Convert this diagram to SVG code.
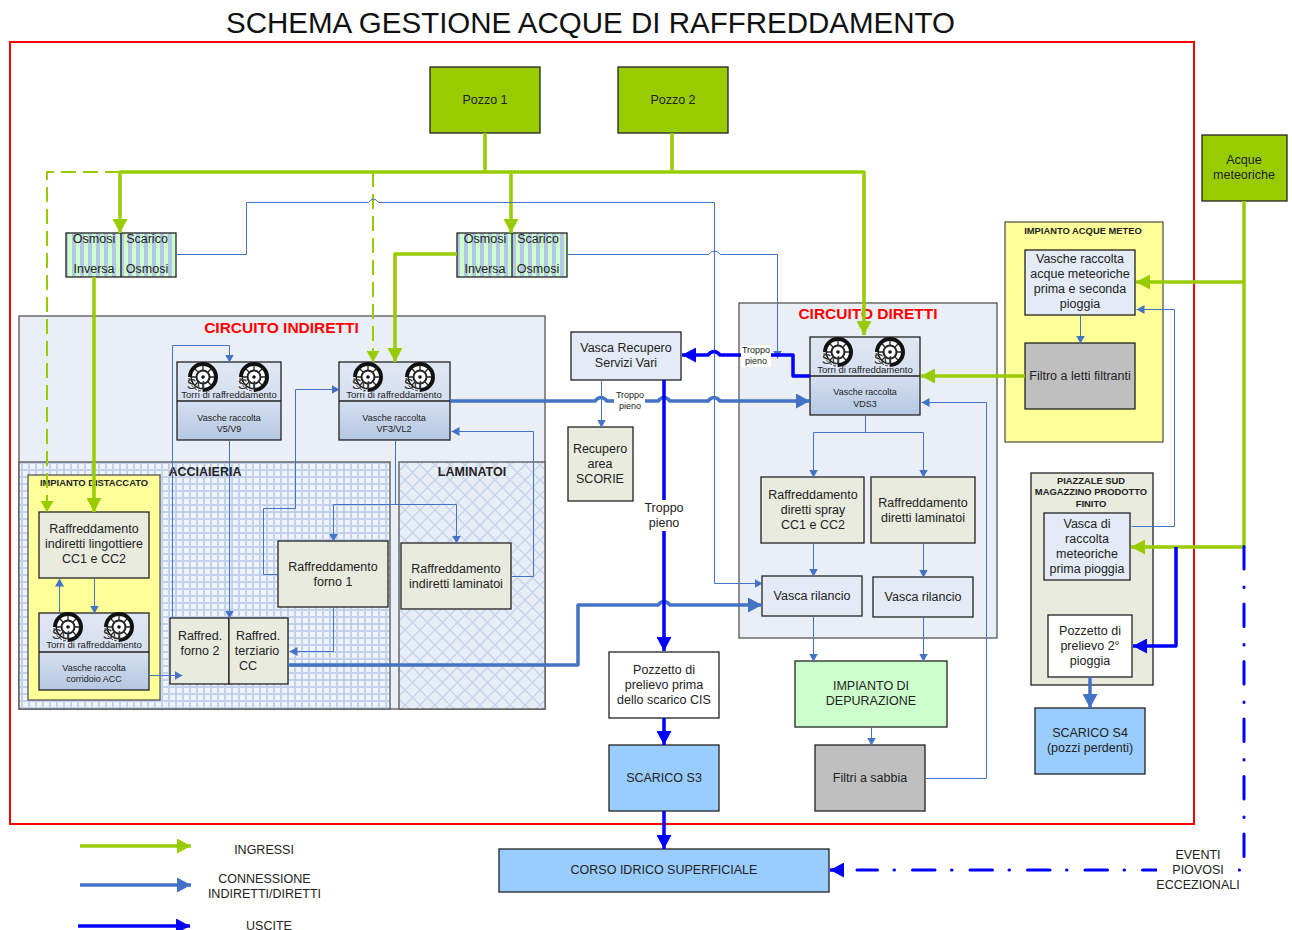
<svg xmlns="http://www.w3.org/2000/svg" width="1292" height="930" viewBox="0 0 1292 930">
<style>
text{font-family:"Liberation Sans",Arial,sans-serif;fill:#222;text-anchor:middle;font-size:12.5px}
.b{stroke:#222;stroke-width:1.3}
.panel{fill:#eaeff7;stroke:#555;stroke-width:1.3}
.beige{fill:#e9ebdf}
.pale{fill:#e4ebf6}
.yel{fill:#ffff99;stroke:#555;stroke-width:1.3}
.sky{fill:#99ccff}
.lime{fill:#99cc00}
.grey{fill:#bfbfbf}
.h{font-weight:bold}
.hs{font-weight:bold;font-size:9.4px}
.s{font-size:9.5px}
.xs{font-size:9px}
.red{fill:#ff0000;font-weight:bold;font-size:15.5px}
path{fill:none;stroke-linejoin:round}
.g{stroke:#99cc00;stroke-width:3.5}
.gd{stroke:#99cc00;stroke-width:2;stroke-dasharray:15 7}
.m{stroke:#4472c4;stroke-width:3.5}
.t{stroke:#4472c4;stroke-width:1;transform:translate(.5px,.5px)}
.u{stroke:#0000ff;stroke-width:3.5}
.dd{stroke:#0000ff;stroke-width:3;stroke-dasharray:22.5 18 .5 16.5;stroke-linecap:round}
</style>
<defs>
<linearGradient id="vg" x1="0" y1="0" x2="0" y2="1"><stop offset="0" stop-color="#d5e0f0"/><stop offset="1" stop-color="#b5c7e2"/></linearGradient>
<linearGradient id="tg" x1="0" y1="0" x2="0" y2="1"><stop offset="0" stop-color="#e0e7f4"/><stop offset="1" stop-color="#d5dfef"/></linearGradient>
<pattern id="grid" width="7" height="7" patternUnits="userSpaceOnUse"><rect width="7" height="7" fill="#eef2f9"/><path d="M0 1H7M1 0V7" stroke="#c3d2ea" stroke-width="2"/></pattern>
<pattern id="diag" width="15" height="15" patternUnits="userSpaceOnUse"><rect width="15" height="15" fill="#e8eef8"/><path d="M0 0L15 15M15 0L0 15" stroke="#c6d4ec" stroke-width="1.5"/></pattern>
<pattern id="stripe" width="8" height="8" patternUnits="userSpaceOnUse"><rect width="8" height="8" fill="#ccffcc"/><rect width="4" height="8" fill="#b4c7e7"/></pattern>
<marker id="ag" markerUnits="userSpaceOnUse" markerWidth="15" markerHeight="15" refX="14" refY="7.5" orient="auto"><path d="M0 0L14 7.5L0 15Z" style="fill:#99cc00"/></marker>
<marker id="agm" markerUnits="userSpaceOnUse" markerWidth="12" markerHeight="13" refX="11" refY="6.5" orient="auto"><path d="M0 0L11 6.5L0 13Z" style="fill:#99cc00"/></marker>
<marker id="am" markerUnits="userSpaceOnUse" markerWidth="15" markerHeight="15" refX="14" refY="7.5" orient="auto"><path d="M0 0L14 7.5L0 15Z" style="fill:#4472c4"/></marker>
<marker id="at" markerUnits="userSpaceOnUse" markerWidth="9" markerHeight="9" refX="8" refY="4.5" orient="auto"><path d="M0 0L8 4.5L0 9Z" style="fill:#4472c4"/></marker>
<marker id="au" markerUnits="userSpaceOnUse" markerWidth="15" markerHeight="15" refX="14" refY="7.5" orient="auto"><path d="M0 0L14 7.5L0 15Z" style="fill:#0000ff"/></marker>
<g id="fan">
<circle r="13" fill="#fff" stroke="#111" stroke-width="4"/>
<path d="M-14.8 0A14.8 14.8 0 0 0 0 14.8" stroke="#e4ebf6" stroke-width="4.5"/>
<path d="M-14 1A14 14 0 0 0 0 14" stroke="#222" stroke-width="1" stroke-dasharray="2.5 1.5"/>
<circle r="6.5" fill="#fff" stroke="#222" stroke-width="2"/>
<circle r="1.8" fill="#111"/>
<path d="M0 -12V-7M0 7V12M-12 0H-7M7 0H12M-8.5 -8.5L-5 -5M8.5 -8.5L5 -5M-8.5 8.5L-5 5M8.5 8.5L5 5" stroke="#222" stroke-width="1.3"/>
<text x="-7" y="12" style="font-size:15px;fill:#333">Su</text>
</g>
</defs>

<text x="590.5" y="33" style="font-size:29.5px;fill:#111">SCHEMA GESTIONE ACQUE DI RAFFREDDAMENTO</text>
<rect id="frame" x="10" y="42" width="1184" height="782" fill="none" stroke="#ff0000" stroke-width="2"/>

<g id="circuito-indiretti"><rect class="panel" x="19" y="316" width="526" height="393"/><text class="red" x="281.5" y="333">CIRCUITO INDIRETTI</text></g>
<g id="acciaieria"><rect x="19" y="462" width="371" height="247" fill="url(#grid)" stroke="#555" stroke-width="1.3"/><text class="h" x="205" y="476">ACCIAIERIA</text></g>
<g id="laminatoi"><rect x="399" y="462" width="146" height="247" fill="url(#diag)" stroke="#555" stroke-width="1.3"/><text class="h" x="472" y="476">LAMINATOI</text></g>
<g id="circuito-diretti"><rect class="panel" x="739" y="303" width="258" height="335"/><text class="red" x="868" y="319">CIRCUITO DIRETTI</text></g>
<g id="impianto-distaccato"><rect class="yel" x="28" y="475" width="132" height="225"/><text class="hs" x="94" y="486">IMPIANTO DISTACCATO</text></g>
<g id="impianto-meteo"><rect class="yel" x="1005" y="222" width="158" height="220"/><text class="hs" x="1083" y="234">IMPIANTO ACQUE METEO</text></g>
<g id="piazzale-sud"><rect class="beige" x="1031" y="473" width="122" height="212" stroke="#222" stroke-width="1.3"/><text class="hs" x="1091" y="484">PIAZZALE SUD</text><text class="hs" x="1091" y="495">MAGAZZINO PRODOTTO</text><text class="hs" x="1091" y="507">FINITO</text></g>

<g id="pozzo1"><rect class="lime b" x="430" y="67" width="110" height="66"/><text x="485" y="104">Pozzo 1</text></g>
<g id="pozzo2"><rect class="lime b" x="618" y="67" width="110" height="66"/><text x="673" y="104">Pozzo 2</text></g>
<g id="acque-meteoriche"><rect class="lime b" x="1202" y="135" width="85" height="66"/><text x="1244" y="164">Acque</text><text x="1244" y="179">meteoriche</text></g>

<g id="osmosi1"><rect class="b" x="66" y="233" width="110" height="44" fill="url(#stripe)"/><path class="b" d="M121 233V277"/><text x="94" y="243">Osmosi</text><text x="94" y="273">Inversa</text><text x="147" y="243">Scarico</text><text x="147" y="273">Osmosi</text></g>
<g id="osmosi2"><rect class="b" x="457" y="233" width="110" height="44" fill="url(#stripe)"/><path class="b" d="M512 233V277"/><text x="485" y="243">Osmosi</text><text x="485" y="273">Inversa</text><text x="538" y="243">Scarico</text><text x="538" y="273">Osmosi</text></g>

<g id="torri-v5"><rect x="177" y="362" width="104" height="39" fill="url(#tg)"/><rect x="177" y="401" width="104" height="39" fill="url(#vg)"/><rect class="b" x="177" y="362" width="104" height="78" fill="none"/><path class="b" d="M177 401H281"/><use href="#fan" x="203" y="377"/><use href="#fan" x="254" y="377"/><text class="s" x="229" y="398">Torri di raffreddamento</text><text class="xs" x="229" y="421">Vasche raccolta</text><text class="xs" x="229" y="432">V5/V9</text></g>
<g id="torri-vf3"><rect x="339" y="362" width="111" height="39" fill="url(#tg)"/><rect x="339" y="401" width="111" height="39" fill="url(#vg)"/><rect class="b" x="339" y="362" width="111" height="78" fill="none"/><path class="b" d="M339 401H450"/><use href="#fan" x="368" y="377"/><use href="#fan" x="420" y="377"/><text class="s" x="394" y="398">Torri di raffreddamento</text><text class="xs" x="394" y="421">Vasche raccolta</text><text class="xs" x="394" y="432">VF3/VL2</text></g>
<g id="torri-vds3"><rect x="810" y="337" width="110" height="39" fill="url(#tg)"/><rect x="810" y="376" width="110" height="39" fill="url(#vg)"/><rect class="b" x="810" y="337" width="110" height="78" fill="none"/><path class="b" d="M810 376H920"/><use href="#fan" x="838" y="352"/><use href="#fan" x="890" y="352"/><text class="s" x="865" y="373">Torri di raffreddamento</text><text class="xs" x="865" y="395">Vasche raccolta</text><text class="xs" x="865" y="407">VDS3</text></g>
<g id="torri-acc"><rect x="39" y="613" width="110" height="39" fill="url(#tg)"/><rect x="39" y="652" width="110" height="38" fill="url(#vg)"/><rect class="b" x="39" y="613" width="110" height="77" fill="none"/><path class="b" d="M39 652H149"/><use href="#fan" x="68" y="627"/><use href="#fan" x="119" y="627"/><text class="s" x="94" y="648">Torri di raffreddamento</text><text class="xs" x="94" y="671">Vasche raccolta</text><text class="xs" x="94" y="682">corridoio ACC</text></g>

<g id="raff-lingottiere"><rect class="beige b" x="39" y="512" width="110" height="66"/><text x="94" y="533">Raffreddamento</text><text x="94" y="548">indiretti lingottiere</text><text x="94" y="563">CC1 e CC2</text></g>
<g id="raff-forno2"><rect class="beige b" x="170" y="618" width="59" height="66"/><text x="200" y="640">Raffred.</text><text x="200" y="655">forno 2</text></g>
<g id="raff-terziario"><rect class="beige b" x="229" y="618" width="59" height="66"/><text x="258" y="640">Raffred.</text><text x="257" y="655">terziario</text><text x="248" y="670">CC</text></g>
<g id="raff-forno1"><rect class="beige b" x="278" y="541" width="110" height="66"/><text x="333" y="571">Raffreddamento</text><text x="333" y="586">forno 1</text></g>
<g id="raff-laminati"><rect class="beige b" x="401" y="543" width="110" height="66"/><text x="456" y="573">Raffreddamento</text><text x="456" y="588">indiretti laminatoi</text></g>
<g id="vasca-recupero"><rect class="pale b" x="571" y="332" width="110" height="48"/><text x="626" y="352">Vasca Recupero</text><text x="626" y="367">Servizi Vari</text></g>
<g id="recupero-scorie"><rect class="beige b" x="568" y="427" width="65" height="74"/><text x="600" y="453">Recupero</text><text x="600" y="468">area</text><text x="600" y="483">SCORIE</text></g>
<g id="pozzetto-cis"><rect class="b" fill="#fff" x="609" y="652" width="110" height="66"/><text x="664" y="674">Pozzetto di</text><text x="664" y="689">prelievo prima</text><text x="664" y="704">dello scarico CIS</text></g>
<g id="scarico-s3"><rect class="sky b" x="609" y="745" width="110" height="66"/><text x="664" y="782">SCARICO S3</text></g>
<g id="corso-idrico"><rect class="sky b" x="499" y="849" width="330" height="43"/><text x="664" y="874">CORSO IDRICO SUPERFICIALE</text></g>
<g id="raff-spray"><rect class="beige b" x="761" y="477" width="103" height="66"/><text x="813" y="499">Raffreddamento</text><text x="813" y="514">diretti spray</text><text x="813" y="529">CC1 e CC2</text></g>
<g id="raff-diretti-lam"><rect class="beige b" x="871" y="477" width="104" height="66"/><text x="923" y="507">Raffreddamento</text><text x="923" y="522">diretti laminatoi</text></g>
<g id="vasca-rilancio1"><rect class="pale b" x="762" y="576" width="100" height="40"/><text x="812" y="600">Vasca rilancio</text></g>
<g id="vasca-rilancio2"><rect class="pale b" x="873" y="577" width="100" height="40"/><text x="923" y="601">Vasca rilancio</text></g>
<g id="depurazione"><rect class="b" fill="#ccffcc" x="795" y="661" width="152" height="66"/><text x="871" y="690">IMPIANTO DI</text><text x="871" y="705">DEPURAZIONE</text></g>
<g id="filtri-sabbia"><rect class="grey b" x="815" y="745" width="110" height="66"/><text x="870" y="782">Filtri a sabbia</text></g>
<g id="vasche-meteo"><rect class="pale b" x="1025" y="250" width="110" height="65"/><text x="1080" y="263">Vasche raccolta</text><text x="1080" y="278">acque meteoriche</text><text x="1080" y="293">prima e seconda</text><text x="1080" y="308">pioggia</text></g>
<g id="filtro-letti"><rect class="grey b" x="1025" y="343" width="110" height="66"/><text x="1080" y="380">Filtro a letti filtranti</text></g>
<g id="vasca-meteoriche"><rect class="pale b" x="1044" y="513" width="86" height="67"/><text x="1087" y="528">Vasca di</text><text x="1087" y="543">raccolta</text><text x="1087" y="558">meteoriche</text><text x="1087" y="573">prima pioggia</text></g>
<g id="pozzetto-2"><rect class="b" fill="#fff" x="1048" y="615" width="84" height="62"/><text x="1090" y="635">Pozzetto di</text><text x="1090" y="650">prelievo 2°</text><text x="1090" y="665">pioggia</text></g>
<g id="scarico-s4"><rect class="sky b" x="1035" y="708" width="110" height="66"/><text x="1090" y="737">SCARICO S4</text><text x="1090" y="752">(pozzi perdenti)</text></g>

<g id="connectors">
<path class="gd" d="M120 172H47V512" marker-end="url(#agm)"/>
<path class="gd" d="M373 172V362" marker-end="url(#agm)"/>
<path class="g" d="M485 133V172H120V233" marker-end="url(#ag)"/>
<path class="g" d="M485 172H511V233" marker-end="url(#ag)"/>
<path class="g" d="M672 133V172M511 172H864V335" marker-end="url(#ag)"/>
<path class="g" d="M94 277V512" marker-end="url(#ag)"/>
<path class="g" d="M457 254H395V362" marker-end="url(#ag)"/>
<path class="g" d="M1025 376H921" marker-end="url(#ag)"/>
<path class="g" d="M1244 201V547H1131" marker-end="url(#ag)"/>
<path class="g" d="M1244 282H1136" marker-end="url(#ag)"/>

<path class="t" d="M176 254H246V202H368q5 -7 10 0H714V583H762" marker-end="url(#at)"/>
<path class="t" d="M567 254H708q6 -7 12 0H777V358" marker-end="url(#at)"/>
<path class="t" d="M172 618V345H229V362" marker-end="url(#at)"/>
<path class="t" d="M229 440V618" marker-end="url(#at)"/>
<path class="t" d="M278 574H263V508H295V389H339" marker-end="url(#at)"/>
<path class="t" d="M395 440V504H333V541" marker-end="url(#at)"/>
<path class="t" d="M395 490V504H456V543" marker-end="url(#at)"/>
<path class="t" d="M333 607V651H289" marker-end="url(#at)"/>
<path class="t" d="M511 576H533V431H451" marker-end="url(#at)"/>
<path class="t" d="M149 675H182" marker-end="url(#at)"/>
<path class="t" d="M94 578V613" marker-end="url(#at)"/>
<path class="t" d="M59 613V578" marker-end="url(#at)"/>
<path class="t" d="M601 380V427" marker-end="url(#at)"/>
<path class="t" d="M865 415V432H813V477" marker-end="url(#at)"/>
<path class="t" d="M865 432H923V477" marker-end="url(#at)"/>
<path class="t" d="M813 543V576" marker-end="url(#at)"/>
<path class="t" d="M923 543V577" marker-end="url(#at)"/>
<path class="t" d="M813 616V661" marker-end="url(#at)"/>
<path class="t" d="M923 617V661" marker-end="url(#at)"/>
<path class="t" d="M871 727V745" marker-end="url(#at)"/>
<path class="t" d="M925 778H986V402H921" marker-end="url(#at)"/>
<path class="t" d="M1080 315V343" marker-end="url(#at)"/>
<path class="t" d="M1131 526H1174V309H1136" marker-end="url(#at)"/>

<path class="m" d="M450 401H595q6 -7 12 0H658q6 -7 12 0H708q6 -7 12 0H810" marker-end="url(#am)"/>
<path class="m" d="M288 665H578V605H658q6 -7 12 0H762" marker-end="url(#am)"/>
<path class="m" d="M1090 677V708" marker-end="url(#am)"/>

<path class="u" d="M810 376H793V355H720q-6 -7 -12 0H682" marker-end="url(#au)"/>
<path class="u" d="M664 380V651" marker-end="url(#au)"/>
<path class="u" d="M664 718V745" marker-end="url(#au)"/>
<path class="u" d="M664 811V849" marker-end="url(#au)"/>
<path class="u" d="M1176 547V646H1133" marker-end="url(#au)"/>
<path class="dd" d="M1244 546.5V870H857"/>
<path class="u" d="M844 870H830" marker-end="url(#au)"/>

<path class="g" d="M80 846H191" marker-end="url(#ag)"/>
<path class="m" d="M80 885H191" marker-end="url(#am)"/>
<path class="u" d="M78 926H190" marker-end="url(#au)"/>
</g>

<g id="labels">
<rect x="741" y="345" width="30" height="22" fill="#fff"/><text class="xs" x="756" y="353">Troppo</text><text class="xs" x="756" y="364">pieno</text>
<rect x="614" y="390" width="31" height="21" fill="#fff"/><text class="xs" x="630" y="398">Troppo</text><text class="xs" x="630" y="409">pieno</text>
<rect x="642" y="500" width="44" height="31" fill="#fff"/><text x="664" y="512">Troppo</text><text x="664" y="527">pieno</text>
<text x="264" y="854">INGRESSI</text>
<text x="264.5" y="883">CONNESSIONE</text><text x="264.5" y="898">INDIRETTI/DIRETTI</text>
<text x="269" y="929.5">USCITE</text>
<rect x="1157" y="848" width="81" height="44" fill="#fff"/>
<text x="1198" y="859">EVENTI</text><text x="1198" y="874">PIOVOSI</text><text x="1198" y="889">ECCEZIONALI</text>
</g>
</svg>
